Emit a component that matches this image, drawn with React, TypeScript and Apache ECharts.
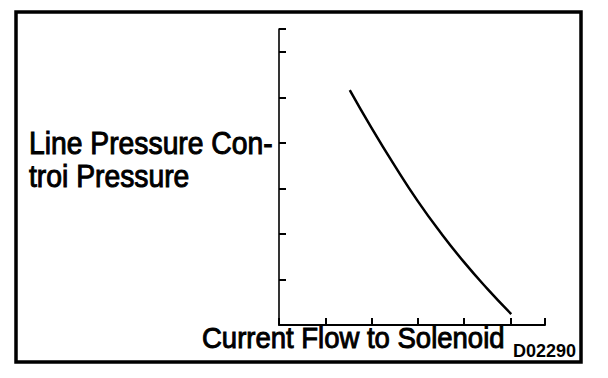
import React, { useEffect, useRef } from "react";
import * as echarts from "echarts";

const xLabel = "Current Flow to Solenoid";
const yLabelLines = ["Line Pressure Con-", "troi Pressure"];
const figureCode = "D02290";

const xTicks = [0, 1, 2, 3, 4, 5];
const yTicks = [0, 1, 2, 3, 4, 5, 6];

const currentFlow = [1.53, 2.0, 2.5, 3.0, 3.5, 4.0, 4.5, 5.02];
const linePressure = [5.16, 4.33, 3.5, 2.72, 2.02, 1.38, 0.8, 0.24];

const FONT = "'Liberation Sans', Arial, Helvetica, sans-serif";

export default function App() {
  const ref = useRef<HTMLDivElement>(null);

  useEffect(() => {
    if (!ref.current) return;
    const chart = echarts.init(ref.current, undefined, { renderer: "svg" });
    const data = currentFlow.map((x, i) => [x, linePressure[i]]);
    const labelStyle = (text: string, size: number) => ({
      text,
      font: `${size}px ${FONT}`,
      fill: "#000",
      stroke: "#000",
      lineWidth: 0.9,
      textVerticalAlign: "middle",
    });
    chart.setOption({
      animation: false,
      backgroundColor: "#ffffff",
      grid: { left: 279, top: 29, width: 266, height: 296 },
      xAxis: {
        type: "value",
        min: xTicks[0],
        max: 5.75,
        interval: 1,
        axisLine: { show: true, lineStyle: { color: "#000", width: 2 } },
        axisTick: { show: true, inside: true, length: 7, lineStyle: { color: "#000", width: 2 } },
        axisLabel: { show: false },
        splitLine: { show: false },
      },
      yAxis: {
        type: "value",
        min: yTicks[0],
        max: 6.5,
        interval: 1,
        axisLine: { show: true, lineStyle: { color: "#000", width: 1.6 } },
        axisTick: { show: true, inside: true, length: 7, lineStyle: { color: "#000", width: 2 } },
        axisLabel: { show: false },
        splitLine: { show: false },
      },
      series: [
        {
          type: "line",
          data,
          smooth: 0.5,
          showSymbol: false,
          lineStyle: { color: "#000", width: 2.5 },
        },
      ],
      graphic: [
        {
          type: "rect",
          shape: { x: 16, y: 12, width: 565, height: 350 },
          style: { fill: "none", stroke: "#000", lineWidth: 3.5 },
        },
        {
          type: "text",
          x: 29,
          y: 143,
          scaleY: 1.08,
          style: labelStyle(yLabelLines[0], 28.3),
        },
        {
          type: "text",
          x: 29,
          y: 176,
          scaleY: 1.08,
          style: labelStyle(yLabelLines[1], 28.3),
        },
        {
          type: "text",
          x: 202,
          y: 338,
          scaleY: 1.08,
          style: labelStyle(xLabel, 27.5),
        },
        {
          type: "text",
          x: 513,
          y: 351,
          style: {
            text: figureCode,
            font: `bold 18px ${FONT}`,
            fill: "#000",
            textVerticalAlign: "middle",
          },
        },
      ],
    });
    return () => chart.dispose();
  }, []);

  return (
    <div
      ref={ref}
      style={{ position: "fixed", left: 0, top: 0, width: 608, height: 378, background: "#fff" }}
    />
  );
}
